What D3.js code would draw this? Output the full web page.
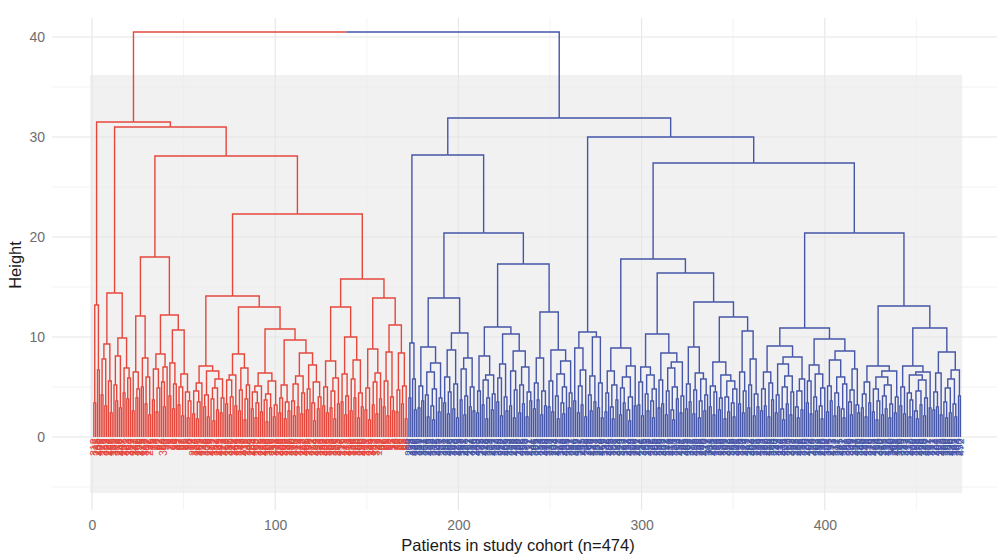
<!DOCTYPE html>
<html><head><meta charset="utf-8">
<script src="https://cdn.jsdelivr.net/npm/d3@7"></script>
<style>body{margin:0;background:#fff}svg{display:block}</style>
</head><body><svg id="chart" width="997" height="560"></svg>
<script>
// Merge height between each pair of neighbouring leaves (dendrogram order), red cluster
const redGaps = [
  3.4, 13.2, 6.7,
  31.5,
  4.2, 7.8, 3.1, 9.3, 5.6, 2.4,
  14.4,
  5.2, 3.6, 8.1, 2.9, 9.9, 4.4, 6.9, 3.8, 5.9,
  31.0,
  2.6, 6.5, 3.9, 4.8, 12.1, 5.0, 7.9, 3.3, 6.0, 2.2,
  18.0,
  3.7, 6.8, 2.5, 4.9, 8.3, 5.5, 3.0, 7.0,
  12.2,
  4.1, 7.4, 2.8, 5.3,
  10.7,
  3.2, 5.0, 2.1, 6.3, 4.5, 1.9, 3.6,
  28.1,
  2.3, 4.6, 1.8, 3.5, 5.4, 7.1, 3.0, 4.2, 2.0, 6.6, 3.8, 1.6, 4.9, 2.7, 5.8, 2.4, 3.9,
  14.1,
  3.3, 5.7, 2.2, 4.0, 6.2, 3.1, 8.3, 2.6, 4.7, 6.9, 1.7, 3.8, 5.2,
  13.0,
  2.8, 4.5, 1.9, 3.4, 5.1, 2.5, 6.4, 3.7, 1.5, 4.3, 2.9, 5.6, 2.0, 3.2,
  10.8,
  2.4, 3.9, 5.2, 1.8, 3.5, 2.6,
  9.7,
  3.6, 2.1, 5.3, 3.0, 6.1, 2.3, 4.4, 8.4, 2.7, 4.8, 7.2, 3.4, 1.6, 5.5, 2.8, 4.0,
  22.3,
  3.1, 5.0, 2.4, 7.6, 2.9, 4.6, 1.8, 5.9, 3.3,
  13.0,
  3.5, 6.3, 2.2, 4.1, 10.0, 2.6, 5.8, 3.9, 7.7, 1.9, 4.4, 3.0,
  15.8,
  2.7, 4.9, 1.7, 8.8, 3.2, 5.5, 2.3, 6.4, 3.8,
  13.9,
  3.0, 5.6, 2.1, 8.5, 4.0, 2.6,
  11.2,
  2.5, 4.7, 8.4, 3.3, 5.1, 1.8
];
// Height at which the red and blue clusters join
const rootHeight = 40.5;
// Merge heights between neighbouring leaves, blue cluster
const blueGaps = [
  3.9, 9.4, 5.8, 2.7,
  28.2,
  2.9, 5.1, 3.6, 9.0, 4.2, 2.0, 6.5, 3.1, 1.7, 4.8, 7.4, 2.5, 3.9,
  13.9,
  3.4, 6.0, 2.3, 4.5, 8.7, 2.8, 5.3, 1.9, 10.4, 3.7, 6.8, 2.2, 4.1, 7.9, 3.0, 5.0, 2.6,
  20.4,
  2.4, 4.6, 8.1, 3.2, 5.7, 1.8, 3.9, 6.2, 2.7, 4.3,
  11.0,
  3.5, 5.9, 2.1, 7.3, 4.0, 2.6, 10.3, 3.1, 6.6, 1.9, 4.7, 8.6, 2.4, 5.2, 3.3, 7.0, 2.0, 4.5, 3.6,
  17.3,
  2.8, 5.4, 3.7, 7.9, 2.2, 4.6, 3.1,
  12.5,
  3.0, 5.6, 2.5, 8.7, 4.1, 1.8, 6.3, 3.4, 2.3, 5.0, 7.6, 2.9, 4.4,
  31.9,
  3.6, 8.9, 2.4, 5.1, 3.2, 6.7, 2.0,
  10.5,
  4.2, 2.6, 6.1, 3.5, 10.0, 2.9, 5.4, 1.9,
  30.0,
  2.5, 4.4, 6.6, 3.0, 1.8, 5.2, 3.7, 8.9, 2.2, 4.9, 3.4, 6.0, 2.7, 1.6, 4.0, 7.1, 3.1,
  17.8,
  3.2, 5.5, 2.1, 7.0, 4.3, 2.6, 6.2, 3.6, 1.9, 4.8, 10.3, 2.9, 5.7, 3.3, 8.4, 2.2, 4.6, 6.9, 2.7, 1.7, 5.0, 3.8, 7.5, 2.4, 4.1,
  16.4,
  2.8, 5.3, 3.5, 9.0, 2.3, 4.7, 6.4, 1.9, 3.6, 5.8, 2.6, 4.2,
  13.5,
  3.0, 5.1, 2.2, 4.5, 7.5, 2.7, 3.9, 6.2, 1.8, 4.0, 2.5, 5.6, 3.4, 2.0, 4.8,
  12.0,
  3.3, 6.5, 2.4, 4.6, 10.6, 2.9, 5.2, 7.8, 2.1, 4.3, 3.0,
  27.4,
  2.6, 4.8, 3.1, 6.5, 2.0, 5.4, 3.7, 9.1, 2.4, 4.2, 7.3, 2.8, 1.7, 5.0, 3.3, 6.1, 2.2, 4.5, 8.0, 3.0, 1.9, 4.6, 2.7, 5.8,
  10.9,
  3.4, 5.6, 2.3, 7.2, 4.0, 2.6, 6.3, 3.1, 1.8, 4.9, 9.8, 2.5, 5.1, 3.6, 7.7, 2.1, 4.4, 3.0, 6.0, 2.8, 1.9, 5.3, 8.6, 3.5, 2.2, 4.7, 6.8, 3.2, 2.4,
  20.4,
  2.9, 4.3, 2.0, 5.5, 3.4, 7.1, 2.5, 4.8, 1.7, 3.6, 6.0, 2.2, 4.1, 2.8, 5.2, 1.9, 3.3, 6.6, 2.4, 4.0,
  13.1,
  3.1, 5.0, 2.3, 7.1, 4.4, 2.0, 3.7, 6.2, 2.6, 1.8, 4.6, 3.2, 5.7, 2.1, 3.9, 6.5, 2.9,
  10.9,
  2.7, 4.5, 3.0, 6.4, 2.2, 8.5, 3.5, 1.9, 4.9, 2.4, 5.8, 3.3, 2.0, 6.7, 4.1
];
// Leaf (patient) labels in dendrogram order
const redLabels = ("312 145 288 401 176 233 359 127 264 418 195 301 372 139 256 447 208 331 163 284 " +
  "392 117 243 366 151 279 425 188 317 102 236 " +
  "45 71 18 93 62 27 84 350 53 9 76 38 61 14 89 42 67 23 95 31 58 80 12 " +
  "214 387 129 305 462 171 248 339 106 276 413 192 357 134 269 441 223 318 157 296 383 110 241 364 199 327 148 273 436 211 346 122 259 404 183 292 375 141 228 453 166 309 396 119 251 338 " +
  "174 281 429 205 362 136 247 390 160 315 443 219 344 113 267 408 185 298 371 132 254 419 197 326 153 289 434 226 351 108 262 399 179 303 457 216 379 143 271 412 190 334 125 258 385 168 299 440 231 353 115 244 393 187 322 149 " +
  "47 82 26 69 35 91 15 57 74 40 88 21 65 33 98 50").split(" ");
const blueLabels = ("203 318 147 426 265 389 112 241 357 174 296 433 158 372 221 305 449 137 268 391 " +
  "184 327 456 209 343 126 282 415 193 361 238 471 152 297 384 116 249 403 172 335 " +
  "261 428 146 319 374 201 457 133 286 398 217 342 165 409 253 376 124 291 438 189 " +
  "322 465 155 278 367 212 431 141 306 395 227 354 118 263 448 176 313 387 239 104 " +
  "274 422 161 348 292 459 135 207 381 244 316 469 182 337 255 411 128 299 363 196 " +
  "422 143 287 378 224 466 159 331 246 405 178 352 101 269 444 213 329 167 392 258 " +
  "474 138 302 386 232 417 154 276 345 191 308 432 121 265 399 206 358 149 283 462 " +
  "222 341 170 414 257 373 109 294 437 186 325 454 162 271 382 215 408 131 289 366 " +
  "240 470 177 311 394 228 451 144 279 356 198 336 107 262 423 235 368 156 301 445 " +
  "219 380 173 324 467 142 288 404 251 333 185 419 123 297 362 210 458 168 314 390 " +
  "237 349 114 276 435 204 377 150 293 461 226 343 181 416 259 370 130 285 402 194 " +
  "320 452 163 267 388 218 440 139 304 365 231 473 171 317 397 245 421 157 281 359 " +
  "200 339 111 254 427 220 385 148 296 446 214 376 179 328 463 134 290 410 247 355 " +
  "192 418 120 300 369 211 455 166 310 393 233 347 117 272 430 202 379 153 295 468 " +
  "229 340 187 412 261 371 127 284 406 197 321 450 160 266 383 225 439 145 307 364 " +
  "250 472").split(" ");
const xTicks = [0, 100, 200, 300, 400];
const xMinor = [50, 150, 250, 350, 450];
const yTicks = [0, 10, 20, 30, 40];
const yMinor = [-5, 5, 15, 25, 35];

const RED = "#E5473C", BLUE = "#4656A8";
const FONT = "'Liberation Sans', Arial, Helvetica, sans-serif";

const gaps = redGaps.concat([rootHeight], blueGaps);
const nLeaves = gaps.length + 1;
const nRed = redGaps.length + 1;
const labels = redLabels.concat(blueLabels);

function build(lo, hi) {
  if (lo === hi) return {leaf: lo, height: 0};
  let k = lo;
  for (let j = lo; j < hi; j++) if (gaps[j] > gaps[k]) k = j;
  return {height: gaps[k], children: [build(lo, k), build(k + 1, hi)]};
}
const root = d3.hierarchy(build(0, nLeaves - 1));
root.eachAfter(n => {
  if (!n.children) { n.pos = n.data.leaf + 1; n.red = n.data.leaf < nRed; }
  else { n.pos = d3.mean(n.children, c => c.pos); n.red = n.children.every(c => c.red); }
});

const svg = d3.select("#chart");
const x = d3.scaleLinear().domain([0, 400]).range([92, 824.8]);
const y = d3.scaleLinear().domain([0, 40]).range([437, 37]);
const panel = {left: 52, right: 997, top: 18, bottom: 510};

// grey band
svg.append("rect")
  .attr("x", x(-1)).attr("width", x(475) - x(-1))
  .attr("y", y(36.2)).attr("height", y(-5.6) - y(36.2))
  .attr("fill", "#F1F1F2");

// grid
const grid = svg.append("g");
grid.selectAll(".ymin").data(yMinor).join("line")
  .attr("x1", panel.left).attr("x2", panel.right)
  .attr("y1", d => y(d)).attr("y2", d => y(d))
  .attr("stroke", "#EBEBEB").attr("stroke-width", 0.6);
grid.selectAll(".ymaj").data(yTicks).join("line")
  .attr("x1", panel.left).attr("x2", panel.right)
  .attr("y1", d => y(d)).attr("y2", d => y(d))
  .attr("stroke", "#E6E6E6").attr("stroke-width", 1.1);
grid.selectAll(".xmin").data(xMinor).join("line")
  .attr("y1", panel.top).attr("y2", panel.bottom)
  .attr("x1", d => x(d)).attr("x2", d => x(d))
  .attr("stroke", "#EBEBEB").attr("stroke-width", 0.6);
grid.selectAll(".xmaj").data(xTicks).join("line")
  .attr("y1", panel.top).attr("y2", panel.bottom)
  .attr("x1", d => x(d)).attr("x2", d => x(d))
  .attr("stroke", "#E6E6E6").attr("stroke-width", 1.1);

// dendrogram segments
const links = root.descendants().filter(d => d.parent);
svg.append("g").attr("fill", "none").attr("stroke-width", 1.4)
  .selectAll("path").data(links).join("path")
  .attr("stroke", d => d.red ? RED : BLUE)
  .attr("d", d => `M${x(d.pos)},${y(d.data.height)}V${y(d.parent.data.height)}H${x(d.parent.pos)}`);

// leaf labels
svg.append("g").selectAll("text").data(root.leaves()).join("text")
  .attr("transform", d => `translate(${x(d.pos)},438.5) rotate(-90)`)
  .attr("text-anchor", "end").attr("dominant-baseline", "central")
  .attr("font-family", FONT).attr("font-size", 10.5)
  .attr("fill", d => d.red ? RED : BLUE)
  .text(d => labels[d.data.leaf] || "");

// axes
const xAxis = svg.append("g").attr("transform", `translate(0,${panel.bottom})`)
  .call(d3.axisBottom(x).tickValues(xTicks).tickSize(0).tickPadding(10));
const yAxis = svg.append("g").attr("transform", `translate(${panel.left},0)`)
  .call(d3.axisLeft(y).tickValues(yTicks).tickSize(0).tickPadding(7));
[xAxis, yAxis].forEach(a => {
  a.select(".domain").remove();
  a.selectAll("text").attr("font-family", FONT).attr("font-size", 14).attr("fill", "#6E6E6E");
});

svg.append("text").attr("x", 518).attr("y", 551).attr("text-anchor", "middle")
  .attr("font-family", FONT).attr("font-size", 16.5).attr("fill", "#1a1a1a")
  .text("Patients in study cohort (n=474)");
svg.append("text").attr("transform", "translate(21,265) rotate(-90)").attr("text-anchor", "middle")
  .attr("font-family", FONT).attr("font-size", 16.5).attr("fill", "#1a1a1a")
  .text("Height");
</script></body></html>
